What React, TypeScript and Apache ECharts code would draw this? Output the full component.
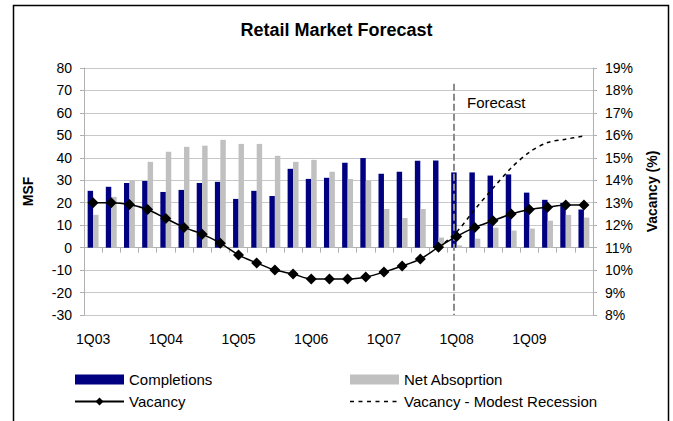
import { useEffect, useRef } from "react";
import * as echarts from "echarts";

const quarters = [
  "1Q03", "2Q03", "3Q03", "4Q03",
  "1Q04", "2Q04", "3Q04", "4Q04",
  "1Q05", "2Q05", "3Q05", "4Q05",
  "1Q06", "2Q06", "3Q06", "4Q06",
  "1Q07", "2Q07", "3Q07", "4Q07",
  "1Q08", "2Q08", "3Q08", "4Q08",
  "1Q09", "2Q09", "3Q09", "4Q09",
];

const completions = [
  25.3, 27.1, 28.8, 29.7, 24.8, 25.7, 28.8, 29.3, 21.7, 25.3, 23.0, 35.1, 30.6, 31.1,
  37.8, 39.9, 32.9, 33.8, 38.7, 38.8, 33.5, 33.5, 32.1, 32.6, 24.5, 21.3, 19.9, 17.0,
];

const netAbsorption = [
  14.6, 22.6, 30.0, 38.2, 42.7, 44.9, 45.4, 48.0, 46.2, 46.2, 40.9, 38.2, 39.1, 33.8,
  30.6, 29.7, 17.2, 13.2, 17.2, 4.5, 1.0, 4.0, 8.9, 7.6, 8.5, 12.0, 14.6, 13.4,
];

const vacancy = [
  13.0, 13.0, 12.92, 12.7, 12.3, 11.9, 11.6, 11.2, 10.67, 10.32, 10.0, 9.83, 9.6, 9.6,
  9.6, 9.69, 9.91, 10.18, 10.49, 11.02, 11.5, 11.9, 12.2, 12.5, 12.7, 12.8, 12.9, 12.9,
];

const vacancyRecession = [
  null, null, null, null, null, null, null, null, null, null, null, null, null, null,
  null, null, null, null, null, 11.0, 11.7, 12.7, 13.65, 14.55, 15.25, 15.68, 15.83, 15.97,
];

const forecastStart = "1Q08";

const FONT = "'Liberation Sans', Arial, sans-serif";

// legend icon: six short dashes inside a 49x10 box
const DASH_ICON =
  "path://M0,0M49,10M0,4.2h4v1.6h-4zM8.5,4.2h4v1.6h-4zM17,4.2h4v1.6h-4zM25.5,4.2h4v1.6h-4zM34,4.2h4v1.6h-4zM42.5,4.2h4v1.6h-4z";

export default function App() {
  const ref = useRef<HTMLDivElement>(null);

  useEffect(() => {
    if (!ref.current) return;
    const chart = echarts.init(ref.current, undefined, { renderer: "svg" });
    const legendText = { fontSize: 15, color: "#000", fontFamily: FONT };
    chart.setOption({
      animation: false,
      backgroundColor: "#fff",
      textStyle: { fontFamily: FONT },
      title: {
        text: "Retail Market Forecast",
        left: "center",
        top: 21,
        padding: 0,
        textStyle: { fontSize: 18, fontWeight: "bold", color: "#000", fontFamily: FONT },
      },
      grid: { left: 84, right: 80, top: 68, bottom: 106 },
      legend: [
        {
          left: 74,
          top: 372,
          padding: 0,
          orient: "vertical",
          itemGap: 7,
          itemWidth: 49,
          itemHeight: 10,
          textStyle: legendText,
          data: [{ name: "Completions", icon: "rect" }, { name: "Vacancy" }],
        },
        {
          left: 350,
          top: 372,
          padding: 0,
          orient: "vertical",
          itemGap: 7,
          itemWidth: 49,
          itemHeight: 10,
          textStyle: legendText,
          data: [
            { name: "Net Absoprtion", icon: "rect" },
            { name: "Vacancy - Modest Recession", icon: DASH_ICON, itemStyle: { color: "#000", borderWidth: 0 } },
          ],
        },
      ],
      xAxis: [
        {
          type: "category",
          data: quarters,
          position: "bottom",
          axisLine: { show: false, onZero: false },
          axisTick: { show: false },
          axisLabel: { interval: 3, fontSize: 14, color: "#000", margin: 17, fontFamily: FONT },
          splitLine: { show: false },
        },
        {
          type: "category",
          data: quarters,
          position: "bottom",
          axisLine: { show: true, onZero: true, onZeroAxisIndex: 0, lineStyle: { color: "#B0B0B0", width: 1 } },
          axisTick: { show: true, length: 5, interval: 0, lineStyle: { color: "#B0B0B0" } },
          axisLabel: { show: false },
          splitLine: { show: false },
        },
      ],
      yAxis: [
        {
          type: "value",
          min: -30,
          max: 80,
          interval: 10,
          name: "MSF",
          nameLocation: "middle",
          nameGap: 49,
          nameTextStyle: { fontSize: 14, fontWeight: "bold", color: "#000", fontFamily: FONT },
          axisLine: { show: true, lineStyle: { color: "#B0B0B0" } },
          axisTick: { show: true, length: 4, lineStyle: { color: "#B0B0B0" } },
          axisLabel: { fontSize: 14, color: "#000", margin: 12, fontFamily: FONT },
          splitLine: { show: true, lineStyle: { color: "#C8C8C8", width: 1 } },
        },
        {
          type: "value",
          min: 8,
          max: 19,
          interval: 1,
          name: "Vacancy (%)",
          nameLocation: "middle",
          nameGap: 52,
          nameTextStyle: { fontSize: 14, fontWeight: "bold", color: "#000", fontFamily: FONT },
          axisLine: { show: true, lineStyle: { color: "#B0B0B0" } },
          axisTick: { show: true, length: 4, lineStyle: { color: "#B0B0B0" } },
          axisLabel: { fontSize: 14, color: "#000", margin: 12, formatter: "{value}%", fontFamily: FONT },
          splitLine: { show: false },
        },
      ],
      series: [
        {
          name: "Completions",
          type: "bar",
          data: completions,
          itemStyle: { color: "#000080" },
          barGap: "0%",
          barCategoryGap: "40%",
          markLine: {
            silent: true,
            symbol: "none",
            label: { show: false },
            lineStyle: { color: "#8C8C8C", type: [7, 3], width: 2 },
            data: [[{ coord: [forecastStart, 73] }, { coord: [forecastStart, -30] }]],
          },
        },
        {
          name: "Net Absoprtion",
          type: "bar",
          data: netAbsorption,
          itemStyle: { color: "#C0C0C0" },
          barGap: "0%",
          barCategoryGap: "40%",
        },
        {
          name: "Vacancy",
          type: "line",
          yAxisIndex: 1,
          data: vacancy,
          smooth: 0.25,
          symbol: "diamond",
          symbolSize: 11,
          itemStyle: { color: "#000" },
          lineStyle: { color: "#000", width: 1.5 },
          z: 5,
        },
        {
          name: "Vacancy - Modest Recession",
          type: "line",
          yAxisIndex: 1,
          data: vacancyRecession,
          smooth: 0.3,
          symbol: "none",
          connectNulls: false,
          itemStyle: { color: "#000" },
          lineStyle: { color: "#000", width: 1.5, type: [4, 4] },
          z: 4,
        },
      ],
      graphic: [
        {
          type: "rect",
          shape: { x: 13.5, y: 5.5, width: 655, height: 440 },
          style: { fill: "none", stroke: "#000", lineWidth: 1.5 },
          silent: true,
        },
        {
          type: "text",
          x: 467,
          y: 95,
          style: { text: "Forecast", fontSize: 15, fill: "#000", fontFamily: FONT },
          silent: true,
        },
      ],
    });
    return () => chart.dispose();
  }, []);

  return (
    <div
      ref={ref}
      style={{ position: "fixed", left: 0, top: 0, width: 673, height: 421, background: "#fff" }}
    />
  );
}
